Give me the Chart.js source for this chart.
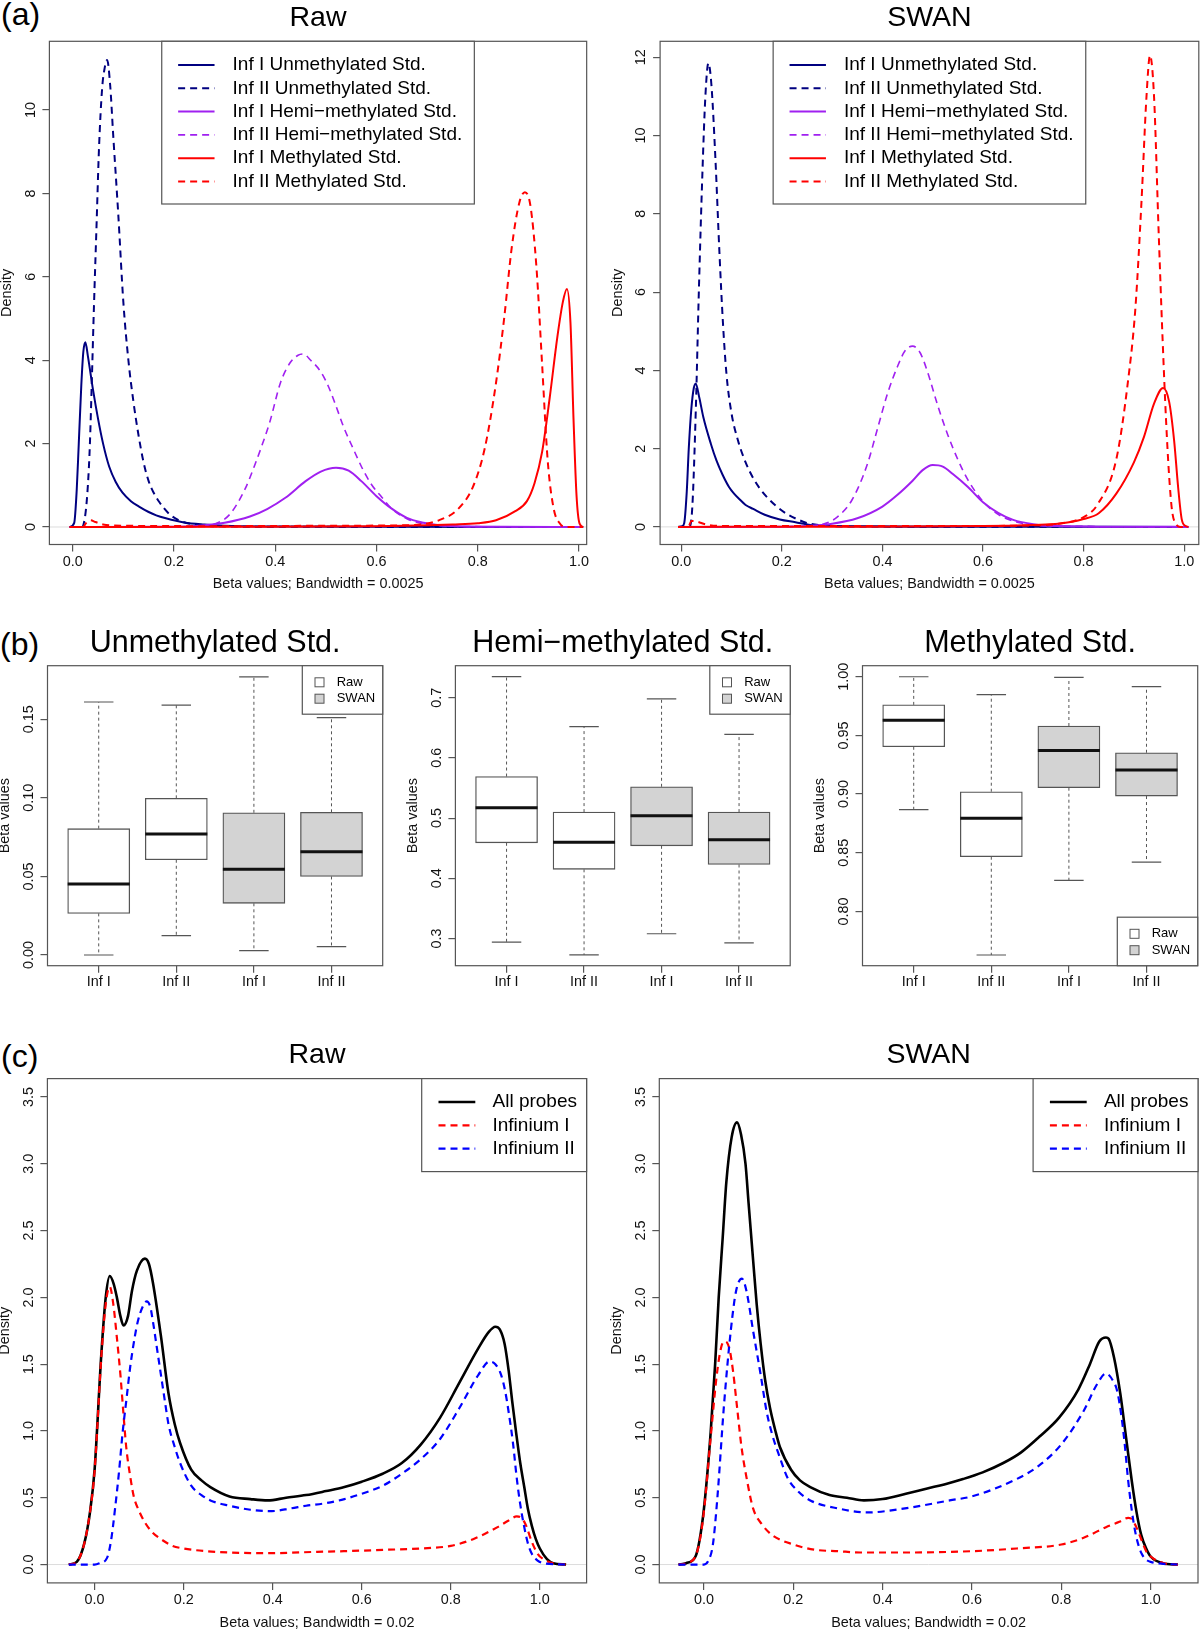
<!DOCTYPE html>
<html>
<head>
<meta charset="utf-8">
<script src="https://cdn.jsdelivr.net/npm/chart.js"></script>
<style>
  html, body { margin: 0; padding: 0; background: #fff; }
  #page { position: relative; width: 1200px; height: 1629px; overflow: hidden; background: #fff; }
  #page canvas { position: absolute; }
  .tag { position: absolute; font: 32px/32px "Liberation Sans", Arial, sans-serif; color: #000; }
</style>
</head>
<body>
<div id="page">
  <div class="tag" style="left:1px;top:-2px">(a)</div>
  <div class="tag" style="left:0px;top:628px">(b)</div>
  <div class="tag" style="left:1px;top:1040px">(c)</div>
  <canvas id="aRaw"></canvas>
  <canvas id="aSwan"></canvas>
  <canvas id="bUnmeth"></canvas>
  <canvas id="bHemi"></canvas>
  <canvas id="bMeth"></canvas>
  <canvas id="cRaw"></canvas>
  <canvas id="cSwan"></canvas>
</div>
<script>
const FONT = '"Liberation Sans", Arial, sans-serif';
Chart.defaults.font.family = FONT;
Chart.defaults.color = '#000';
Chart.defaults.animation = false;

// ---------- data: (a) density of the standards, bandwidth 0.0025 ----------
const densityTicksX = [0, 0.2, 0.4, 0.6, 0.8, 1.0];
const rawTicksY = [0, 2, 4, 6, 8, 10];
const swanTicksY = [0, 2, 4, 6, 8, 10, 12];
const stdLabels = ["Inf I Unmethylated Std.", "Inf II Unmethylated Std.",
  "Inf I Hemi\u2212methylated Std.", "Inf II Hemi\u2212methylated Std.",
  "Inf I Methylated Std.", "Inf II Methylated Std."];

const rawUnmethI = [[-0.006,0],[0.003,0.1],[0.008,0.9],[0.012,2.0],[0.017,3.4],[0.021,4.2],[0.025,4.43],[0.03,4.1],[0.04,3.3],[0.05,2.6],[0.06,2.0],[0.072,1.45],[0.085,1.08],[0.098,0.83],[0.115,0.62],[0.131,0.49],[0.15,0.36],[0.165,0.28],[0.184,0.21],[0.22,0.11],[0.26,0.06],[0.3,0.03],[0.4,0.012],[0.6,0.004],[1.008,0]];
const rawUnmethII = [[-0.006,0],[0.018,0],[0.025,0.3],[0.03,1.0],[0.034,2.0],[0.038,3.6],[0.042,5.3],[0.047,7.2],[0.052,9.1],[0.058,10.5],[0.063,11.0],[0.068,11.2],[0.074,10.6],[0.08,9.4],[0.09,7.5],[0.1,5.4],[0.11,4.0],[0.12,3.0],[0.13,2.2],[0.14,1.55],[0.15,1.1],[0.16,0.82],[0.171,0.6],[0.19,0.32],[0.21,0.16],[0.24,0.06],[0.28,0.02],[0.4,0.005],[1.008,0]];
const rawHemiI = [[-0.006,0],[0.2,0.005],[0.25,0.03],[0.3,0.1],[0.35,0.25],[0.384,0.43],[0.42,0.7],[0.46,1.1],[0.49,1.33],[0.52,1.42],[0.545,1.35],[0.57,1.1],[0.6,0.74],[0.63,0.44],[0.66,0.22],[0.69,0.11],[0.72,0.05],[0.76,0.02],[0.85,0.005],[1.008,0]];
const rawHemiII = [[-0.006,0],[0.2,0.003],[0.25,0.02],[0.28,0.07],[0.31,0.3],[0.34,0.9],[0.36,1.5],[0.375,2.0],[0.39,2.55],[0.41,3.45],[0.43,3.95],[0.445,4.12],[0.455,4.15],[0.47,4.0],[0.49,3.72],[0.505,3.37],[0.52,2.9],[0.535,2.4],[0.555,1.85],[0.573,1.38],[0.59,1.02],[0.61,0.72],[0.63,0.44],[0.66,0.2],[0.7,0.06],[0.75,0.02],[0.85,0.005],[1.008,0]];
const rawMethI = [[-0.006,0],[0.3,0.005],[0.6,0.02],[0.7,0.04],[0.75,0.06],[0.8,0.09],[0.836,0.16],[0.874,0.38],[0.897,0.62],[0.912,1.05],[0.927,1.8],[0.942,3.1],[0.957,4.55],[0.968,5.4],[0.976,5.71],[0.983,4.9],[0.989,2.6],[0.995,0.75],[1.001,0.08],[1.008,0]];
const rawMethII = [[-0.006,0],[0.02,0],[0.027,0.1],[0.035,0.16],[0.045,0.12],[0.06,0.06],[0.1,0.03],[0.3,0.02],[0.5,0.03],[0.65,0.04],[0.686,0.06],[0.723,0.16],[0.761,0.43],[0.791,0.98],[0.814,1.9],[0.836,3.46],[0.852,5.0],[0.867,6.7],[0.882,7.78],[0.893,8.03],[0.904,7.7],[0.916,6.2],[0.927,3.9],[0.938,1.6],[0.95,0.43],[0.961,0.1],[0.972,0],[1.008,0]];

const swanUnmethI = [[-0.006,0],[0.002,0.02],[0.006,0.1],[0.011,0.9],[0.015,2.0],[0.02,3.0],[0.025,3.55],[0.029,3.66],[0.036,3.3],[0.044,2.8],[0.059,2.12],[0.07,1.7],[0.082,1.34],[0.095,1.02],[0.105,0.85],[0.118,0.68],[0.128,0.56],[0.143,0.46],[0.166,0.31],[0.196,0.19],[0.227,0.12],[0.257,0.05],[0.3,0.02],[0.5,0.006],[1.008,0]];
const swanUnmethII = [[-0.006,0],[0.016,0],[0.022,0.5],[0.029,3.0],[0.035,6.0],[0.042,9.0],[0.048,11.0],[0.054,11.85],[0.06,11.3],[0.068,9.4],[0.076,7.0],[0.083,5.2],[0.09,3.9],[0.1,2.9],[0.113,2.2],[0.128,1.65],[0.143,1.25],[0.158,0.95],[0.175,0.7],[0.19,0.52],[0.21,0.33],[0.23,0.2],[0.25,0.1],[0.28,0.04],[0.33,0.01],[1.008,0]];
const swanHemiI = [[-0.006,0],[0.2,0.004],[0.25,0.02],[0.3,0.08],[0.35,0.22],[0.4,0.52],[0.43,0.82],[0.46,1.18],[0.48,1.45],[0.5,1.58],[0.52,1.54],[0.54,1.35],[0.57,1.02],[0.6,0.63],[0.63,0.36],[0.66,0.18],[0.7,0.07],[0.75,0.02],[0.85,0.005],[1.008,0]];
const swanHemiII = [[-0.006,0],[0.2,0.003],[0.25,0.02],[0.28,0.06],[0.31,0.25],[0.34,0.7],[0.37,1.6],[0.39,2.5],[0.41,3.4],[0.43,4.1],[0.445,4.5],[0.46,4.62],[0.475,4.45],[0.49,3.95],[0.51,3.1],[0.53,2.35],[0.55,1.72],[0.57,1.2],[0.6,0.65],[0.63,0.32],[0.66,0.15],[0.7,0.05],[0.75,0.015],[1.008,0]];
const swanMethI = [[-0.006,0],[0.3,0.005],[0.6,0.02],[0.7,0.05],[0.75,0.08],[0.8,0.2],[0.83,0.35],[0.865,0.85],[0.9,1.65],[0.92,2.3],[0.94,3.15],[0.958,3.55],[0.97,3.2],[0.98,2.2],[0.988,1.0],[0.995,0.2],[1.003,0.02],[1.008,0]];
const swanMethII = [[-0.006,0],[0.014,0],[0.02,0.15],[0.03,0.14],[0.05,0.06],[0.1,0.02],[0.5,0.02],[0.7,0.04],[0.75,0.08],[0.8,0.25],[0.827,0.56],[0.865,1.73],[0.888,3.7],[0.903,5.6],[0.915,8.3],[0.925,11.0],[0.932,12.05],[0.94,11.0],[0.949,7.6],[0.957,4.8],[0.964,2.7],[0.97,1.3],[0.976,0.4],[0.985,0.05],[0.992,0],[1.008,0]];

// ---------- data: (b) boxplots, [lower whisker, Q1, median, Q3, upper whisker] ----------
const boxCats = ["Inf I", "Inf II", "Inf I", "Inf II"];
const boxGroups = ["Raw", "Raw", "SWAN", "SWAN"];
const unmethBox = [[0.000,0.0265,0.0452,0.0804,0.161],[0.0123,0.0606,0.077,0.0997,0.159],[0.0028,0.0329,0.0545,0.0905,0.177],[0.0053,0.050,0.0657,0.0908,0.151]];
const hemiBox = [[0.294,0.459,0.517,0.569,0.735],[0.273,0.415,0.460,0.510,0.652],[0.308,0.454,0.504,0.552,0.698],[0.293,0.423,0.464,0.510,0.639]];
const methBox = [[0.8867,0.9403,0.9628,0.976,1.000],[0.7628,0.8466,0.8793,0.902,0.9847],[0.8264,0.9054,0.9372,0.958,0.9994],[0.842,0.8983,0.9205,0.9352,0.9915]];
const unmethTicks = [0, 0.05, 0.10, 0.15];
const hemiTicks = [0.3, 0.4, 0.5, 0.6, 0.7];
const methTicks = [0.80, 0.85, 0.90, 0.95, 1.00];

// ---------- data: (c) density of all probes, bandwidth 0.02 ----------
const allTicksY = [0, 0.5, 1, 1.5, 2, 2.5, 3, 3.5];
const probeLabels = ["All probes", "Infinium I", "Infinium II"];
const rawAll = [[-0.058,0],[-0.04,0.02],[-0.023,0.16],[-0.01,0.4],[0,0.71],[0.015,1.57],[0.025,2.0],[0.034,2.16],[0.043,2.1],[0.05,2.0],[0.058,1.86],[0.065,1.79],[0.075,1.86],[0.084,2.05],[0.095,2.2],[0.113,2.29],[0.122,2.25],[0.131,2.11],[0.149,1.71],[0.166,1.28],[0.18,1.05],[0.192,0.91],[0.217,0.71],[0.24,0.63],[0.26,0.58],[0.303,0.51],[0.35,0.49],[0.389,0.48],[0.43,0.5],[0.475,0.52],[0.52,0.55],[0.561,0.58],[0.6,0.62],[0.647,0.68],[0.69,0.76],[0.733,0.9],[0.776,1.1],[0.819,1.36],[0.862,1.62],[0.885,1.74],[0.9,1.78],[0.91,1.76],[0.921,1.65],[0.93,1.45],[0.938,1.22],[0.947,0.98],[0.956,0.76],[0.965,0.58],[0.973,0.42],[0.982,0.29],[0.991,0.19],[1.0,0.12],[1.016,0.04],[1.03,0.01],[1.059,0]];
const rawInfI = [[-0.058,0],[-0.04,0.02],[-0.023,0.16],[-0.01,0.4],[0,0.7],[0.015,1.55],[0.025,1.95],[0.034,2.08],[0.042,1.95],[0.05,1.7],[0.058,1.42],[0.065,1.12],[0.071,0.88],[0.08,0.66],[0.088,0.51],[0.1,0.4],[0.114,0.31],[0.13,0.24],[0.149,0.19],[0.175,0.14],[0.2,0.12],[0.25,0.1],[0.303,0.09],[0.39,0.085],[0.5,0.095],[0.56,0.1],[0.65,0.11],[0.733,0.12],[0.8,0.14],[0.85,0.19],[0.905,0.28],[0.93,0.33],[0.948,0.36],[0.958,0.35],[0.968,0.3],[0.982,0.17],[0.995,0.08],[1.008,0.04],[1.03,0.01],[1.059,0]];
const rawInfII = [[-0.058,0],[0.0,0],[0.011,0.01],[0.028,0.05],[0.037,0.18],[0.046,0.42],[0.055,0.7],[0.063,0.99],[0.072,1.25],[0.08,1.48],[0.09,1.7],[0.097,1.82],[0.108,1.93],[0.117,1.97],[0.125,1.93],[0.131,1.82],[0.14,1.62],[0.149,1.42],[0.158,1.22],[0.166,1.05],[0.18,0.88],[0.192,0.76],[0.217,0.59],[0.24,0.52],[0.26,0.48],[0.303,0.44],[0.35,0.41],[0.398,0.4],[0.44,0.42],[0.475,0.44],[0.52,0.46],[0.561,0.49],[0.6,0.53],[0.647,0.59],[0.69,0.68],[0.733,0.79],[0.776,0.94],[0.819,1.17],[0.862,1.42],[0.887,1.52],[0.9,1.5],[0.913,1.42],[0.922,1.3],[0.93,1.14],[0.94,0.9],[0.948,0.65],[0.956,0.45],[0.965,0.28],[0.973,0.16],[0.982,0.08],[0.995,0.03],[1.008,0.01],[1.059,0]];
const swanAll = [[-0.057,0],[-0.04,0.01],[-0.019,0.06],[-0.01,0.18],[0,0.42],[0.015,0.99],[0.025,1.5],[0.033,2.0],[0.042,2.45],[0.05,2.86],[0.062,3.2],[0.074,3.31],[0.083,3.22],[0.093,3.0],[0.1,2.7],[0.11,2.28],[0.118,1.95],[0.127,1.65],[0.137,1.38],[0.148,1.17],[0.16,1.0],[0.17,0.88],[0.195,0.71],[0.215,0.63],[0.238,0.58],[0.281,0.52],[0.32,0.5],[0.358,0.48],[0.4,0.49],[0.452,0.53],[0.5,0.57],[0.538,0.6],[0.58,0.64],[0.624,0.69],[0.67,0.76],[0.71,0.84],[0.752,0.96],[0.795,1.1],[0.838,1.31],[0.864,1.5],[0.885,1.67],[0.9,1.7],[0.906,1.69],[0.918,1.55],[0.932,1.28],[0.945,0.95],[0.958,0.62],[0.968,0.4],[0.979,0.22],[0.99,0.12],[1.0,0.06],[1.027,0.01],[1.061,0]];
const swanInfI = [[-0.057,0],[-0.04,0.01],[-0.019,0.06],[-0.01,0.17],[0,0.4],[0.015,0.95],[0.028,1.4],[0.038,1.62],[0.045,1.67],[0.052,1.66],[0.058,1.6],[0.065,1.45],[0.075,1.15],[0.084,0.88],[0.097,0.62],[0.11,0.42],[0.13,0.3],[0.153,0.22],[0.2,0.15],[0.25,0.11],[0.3,0.1],[0.35,0.09],[0.45,0.09],[0.6,0.1],[0.7,0.12],[0.8,0.15],[0.85,0.2],[0.9,0.28],[0.93,0.32],[0.95,0.35],[0.958,0.34],[0.968,0.28],[0.98,0.18],[0.99,0.1],[1.0,0.06],[1.03,0.01],[1.061,0]];
const swanInfII = [[-0.057,0],[0.0,0],[0.01,0.03],[0.02,0.15],[0.03,0.5],[0.045,1.2],[0.06,1.75],[0.072,2.05],[0.085,2.14],[0.095,2.05],[0.11,1.75],[0.127,1.42],[0.14,1.15],[0.153,0.97],[0.17,0.8],[0.187,0.65],[0.21,0.55],[0.238,0.48],[0.3,0.42],[0.365,0.39],[0.45,0.42],[0.55,0.48],[0.6,0.51],[0.7,0.64],[0.75,0.74],[0.8,0.9],[0.85,1.15],[0.88,1.35],[0.9,1.43],[0.915,1.38],[0.925,1.3],[0.935,1.1],[0.942,0.9],[0.949,0.65],[0.958,0.4],[0.967,0.22],[0.98,0.08],[1.0,0.02],[1.061,0]];

// ---------- styles ----------
const NAVY = '#000080', PURPLE = '#a020f0', RED = '#ff0000', BLUE = '#0000ff';
const stdStyles = [
  {color: NAVY, width: 2, dash: []}, {color: NAVY, width: 2, dash: [7, 5]},
  {color: PURPLE, width: 2, dash: []}, {color: PURPLE, width: 1.6, dash: [7, 5]},
  {color: RED, width: 2, dash: []}, {color: RED, width: 2, dash: [7, 5]}
];
const probeStyles = [
  {color: '#000', width: 2.6, dash: []}, {color: RED, width: 2.2, dash: [7, 5]},
  {color: BLUE, width: 2.2, dash: [7, 5]}
];
const aLegend = {pos: 'top', w: 312.6, h: 162.7, first: 23.7, step: 23.3, x1: 16.4, x2: 52.8, tx: 70.8, size: 19, kind: 'line'};
const cLegend = {pos: 'topright', w: 164.9, h: 93, first: 23.4, step: 23.3, x1: 16.8, x2: 53.6, tx: 70.8, size: 19, kind: 'line'};
const bLegendTop = {pos: 'topright', w: 80.4, h: 48.5, first: 16.6, step: 16.4, mark: 17.2, tx: 34.4, size: 13, kind: 'box'};
const bLegendBottom = Object.assign({}, bLegendTop, {pos: 'bottomright'});

// ---------- plugins ----------
const rFrame = {
  id: 'rFrame',
  afterDatasetsDraw(chart) {
    const {ctx, chartArea: a} = chart;
    ctx.save();
    ctx.strokeStyle = '#555';
    ctx.lineWidth = 1.2;
    ctx.strokeRect(a.left, a.top, a.right - a.left, a.bottom - a.top);
    ctx.restore();
  }
};

const zeroLine = {
  id: 'zeroLine',
  beforeDatasetsDraw(chart, args, o) {
    if (!o.on) return;
    const {ctx, chartArea: a} = chart;
    const y = chart.scales.y.getPixelForValue(0);
    ctx.save();
    ctx.strokeStyle = '#dcdcdc';
    ctx.lineWidth = 1;
    ctx.beginPath();
    ctx.moveTo(a.left, y);
    ctx.lineTo(a.right, y);
    ctx.stroke();
    ctx.restore();
  }
};

const rLegend = {
  id: 'rLegend',
  afterDraw(chart, args, o) {
    if (!o.w) return;
    const {ctx, chartArea: a} = chart;
    const x = o.pos === 'top' ? (a.left + a.right - o.w) / 2 : a.right - o.w;
    const y = o.pos === 'bottomright' ? a.bottom - o.h : a.top;
    ctx.save();
    ctx.fillStyle = '#fff';
    ctx.fillRect(x, y, o.w, o.h);
    ctx.strokeStyle = '#555';
    ctx.lineWidth = 1.2;
    ctx.strokeRect(x, y, o.w, o.h);
    ctx.font = o.size + 'px ' + FONT;
    ctx.textBaseline = 'middle';
    const items = chart.data.datasets.filter(d => o.kind === 'box' ? d.type === 'bar' : true);
    items.forEach((d, i) => {
      const ry = y + o.first + i * o.step;
      if (o.kind === 'box') {
        ctx.fillStyle = d.backgroundColor;
        ctx.fillRect(x + o.mark - 4.5, ry - 4.5, 9, 9);
        ctx.strokeStyle = '#555';
        ctx.lineWidth = 1;
        ctx.strokeRect(x + o.mark - 4.5, ry - 4.5, 9, 9);
      } else {
        ctx.strokeStyle = d.borderColor;
        ctx.lineWidth = d.borderWidth;
        ctx.setLineDash(d.borderDash || []);
        ctx.beginPath();
        ctx.moveTo(x + o.x1, ry);
        ctx.lineTo(x + o.x2, ry);
        ctx.stroke();
        ctx.setLineDash([]);
      }
      ctx.fillStyle = '#000';
      ctx.fillText(d.label, x + o.tx, ry);
    });
    ctx.restore();
  }
};

// ---------- layout helpers ----------
const measureCtx = document.createElement('canvas').getContext('2d');
function widest(labels, size) {
  measureCtx.font = size + 'px ' + FONT;
  return Math.max(...labels.map(l => measureCtx.measureText(l).width));
}

// places the canvas so that the chart area lands on the given plot box
function frame(id, box, titleCy, titleSize, hasXTitle) {
  const cv = document.getElementById(id);
  const x0 = Math.floor(box.l - 50.84);
  const y0 = Math.floor(titleCy - titleSize / 2 - 4);
  const xH = hasXTitle ? 48.64 : 30;
  const W = Math.ceil(box.r + 2 - x0);
  const H = Math.ceil(box.b + xH - y0);
  cv.width = W;
  cv.height = H;
  cv.style.left = x0 + 'px';
  cv.style.top = y0 + 'px';
  cv.style.width = W + 'px';
  cv.style.height = H + 'px';
  const padTop = titleCy - titleSize / 2 - y0;
  return {
    cv, yW: box.l - x0, xH,
    padding: {left: 0, top: 0, right: x0 + W - box.r, bottom: y0 + H - box.b - xH},
    titlePad: {top: padTop, bottom: box.t - y0 - padTop - titleSize}
  };
}

const tickGrid = {display: true, offset: false, drawOnChartArea: false, drawTicks: true, tickLength: 7, color: '#555', lineWidth: 1.2};

function axisX(min, max, ticks, fmt, title, lay, labelGap) {
  return {
    type: 'linear', min, max, offset: false, bounds: 'data',
    afterBuildTicks: s => { s.ticks = ticks.map(v => ({value: v})); },
    afterFit: s => { s.height = lay.xH; },
    grid: tickGrid,
    border: {display: false},
    ticks: {autoSkip: false, minRotation: 0, maxRotation: 0, padding: labelGap - 7 - 8.64,
      font: {size: 14.4}, color: '#111', callback: fmt},
    title: {display: !!title, text: title || '', padding: 0, font: {size: 14.4, lineHeight: 1.2}, color: '#111'}
  };
}

function axisY(min, max, ticks, fmt, title, lay) {
  const labels = ticks.map(v => fmt(v));
  return {
    type: 'linear', min, max, bounds: 'data',
    afterBuildTicks: s => { s.ticks = ticks.map(v => ({value: v})); },
    afterFit: s => { s.width = lay.yW; },
    grid: tickGrid,
    border: {display: false},
    ticks: {autoSkip: false, minRotation: 90, maxRotation: 90, crossAlign: 'center',
      padding: 11.7 - widest(labels, 14.4) / 2, font: {size: 14.4}, color: '#111', callback: v => fmt(v)},
    title: {display: true, text: title, padding: 0, font: {size: 14.4, lineHeight: 1.2}, color: '#111'}
  };
}

function titleOpts(text, size, lay) {
  return {display: true, text, fullSize: false, color: '#000',
    font: {size, weight: 'normal', lineHeight: 1}, padding: lay.titlePad};
}

function densityChart(id, box, titleCy, title, xTitle, xr, yr, yTicks, labels, series, styles, legend) {
  const lay = frame(id, box, titleCy, 28.5, true);
  new Chart(lay.cv, {
    type: 'line',
    data: {
      datasets: series.map((s, i) => ({
        label: labels[i], data: s, borderColor: styles[i].color, borderWidth: styles[i].width,
        borderDash: styles[i].dash, pointRadius: 0, fill: false,
        cubicInterpolationMode: 'monotone', order: -i
      }))
    },
    options: {
      responsive: false, animation: false, events: [],
      layout: {padding: lay.padding},
      scales: {
        x: axisX(xr[0], xr[1], densityTicksX, v => v.toFixed(1), xTitle, lay, 17.5),
        y: axisY(yr[0], yr[1], yTicks, v => yTicks[yTicks.length - 1] < 5 ? v.toFixed(1) : String(v), 'Density', lay)
      },
      plugins: {
        legend: {display: false}, tooltip: {enabled: false},
        title: titleOpts(title, 28.5, lay),
        zeroLine: {on: true}, rLegend: legend
      }
    },
    plugins: [zeroLine, rFrame, rLegend]
  });
}

function boxChart(id, box, title, stats, yr, yTicks, digits, legend) {
  const lay = frame(id, box, 643.3, 30.5, false);
  const xr = [0.34, 4.66];
  const thick = (box.r - box.l) / (xr[1] - xr[0]) * 0.8;
  const boxes = g => stats.map((s, i) => ({x: i + 1, y: [s[1], s[3]]})).filter((_, i) => boxGroups[i] === g);
  const whiskers = stats.flatMap((s, i) => [
    {x: i + 1, y: s[3]}, {x: i + 1, y: s[4]}, {x: i + 1, y: null},
    {x: i + 1, y: s[1]}, {x: i + 1, y: s[0]}, {x: i + 1, y: null}]);
  const staples = stats.flatMap((s, i) => [
    {x: i + 0.81, y: s[4]}, {x: i + 1.19, y: s[4]}, {x: i + 1.19, y: null},
    {x: i + 0.81, y: s[0]}, {x: i + 1.19, y: s[0]}, {x: i + 1.19, y: null}]);
  const medians = stats.flatMap((s, i) => [
    {x: i + 0.6, y: s[2]}, {x: i + 1.4, y: s[2]}, {x: i + 1.4, y: null}]);
  const barStyle = {borderColor: '#555', borderWidth: 1.3, borderSkipped: false, barThickness: thick, grouped: false};
  const lineStyle = {pointRadius: 0, fill: false, tension: 0};
  new Chart(lay.cv, {
    type: 'bar',
    data: {
      datasets: [
        Object.assign({type: 'bar', label: 'Raw', data: boxes('Raw'), backgroundColor: '#ffffff', order: 5}, barStyle),
        Object.assign({type: 'bar', label: 'SWAN', data: boxes('SWAN'), backgroundColor: '#d3d3d3', order: 5}, barStyle),
        Object.assign({type: 'line', label: 'whiskers', data: whiskers, borderColor: '#555', borderWidth: 1, borderDash: [3, 3], order: 4}, lineStyle),
        Object.assign({type: 'line', label: 'staples', data: staples, borderColor: '#555', borderWidth: 1.2, order: 3}, lineStyle),
        Object.assign({type: 'line', label: 'medians', data: medians, borderColor: '#111', borderWidth: 3, order: 1}, lineStyle)
      ]
    },
    options: {
      responsive: false, animation: false, events: [],
      layout: {padding: lay.padding},
      scales: {
        x: axisX(xr[0], xr[1], [1, 2, 3, 4], (v, i) => boxCats[i], null, lay, 16.6),
        y: axisY(yr[0], yr[1], yTicks, v => v.toFixed(digits), 'Beta values', lay)
      },
      plugins: {
        legend: {display: false}, tooltip: {enabled: false},
        title: titleOpts(title, 30.5, lay),
        rLegend: legend
      }
    },
    plugins: [rFrame, rLegend]
  });
}

// ---------- panels ----------
densityChart('aRaw', {l: 49.4, t: 41.3, r: 588.1, b: 544.5}, 18.6, 'Raw', 'Beta values; Bandwidth = 0.0025',
  [-0.046, 1.015], [-0.42, 11.65], rawTicksY, stdLabels,
  [rawUnmethI, rawUnmethII, rawHemiI, rawHemiII, rawMethI, rawMethII], stdStyles, aLegend);
densityChart('aSwan', {l: 660.1, t: 41.3, r: 1198.8, b: 544.5}, 18.6, 'SWAN', 'Beta values; Bandwidth = 0.0025',
  [-0.042, 1.029], [-0.45, 12.41], swanTicksY, stdLabels,
  [swanUnmethI, swanUnmethII, swanHemiI, swanHemiII, swanMethI, swanMethII], stdStyles, aLegend);

boxChart('bUnmeth', {l: 47.5, t: 665.7, r: 382.7, b: 965.7}, 'Unmethylated Std.', unmethBox,
  [-0.0068, 0.1841], unmethTicks, 2, bLegendTop);
boxChart('bHemi', {l: 455.4, t: 665.7, r: 790.2, b: 965.7}, 'Hemi\u2212methylated Std.', hemiBox,
  [0.255, 0.753], hemiTicks, 1, bLegendTop);
boxChart('bMeth', {l: 862.5, t: 665.7, r: 1197.7, b: 965.7}, 'Methylated Std.', methBox,
  [0.7537, 1.0094], methTicks, 2, bLegendBottom);

densityChart('cRaw', {l: 47.4, t: 1078.6, r: 586.6, b: 1582.9}, 1054.9, 'Raw', 'Beta values; Bandwidth = 0.02',
  [-0.106, 1.105], [-0.1375, 3.638], allTicksY, probeLabels, [rawAll, rawInfI, rawInfII], probeStyles, cLegend);
densityChart('cSwan', {l: 659.3, t: 1078.6, r: 1198, b: 1582.9}, 1054.9, 'SWAN', 'Beta values; Bandwidth = 0.02',
  [-0.1, 1.106], [-0.1375, 3.638], allTicksY, probeLabels, [swanAll, swanInfI, swanInfII], probeStyles, cLegend);
</script>
</body>
</html>
